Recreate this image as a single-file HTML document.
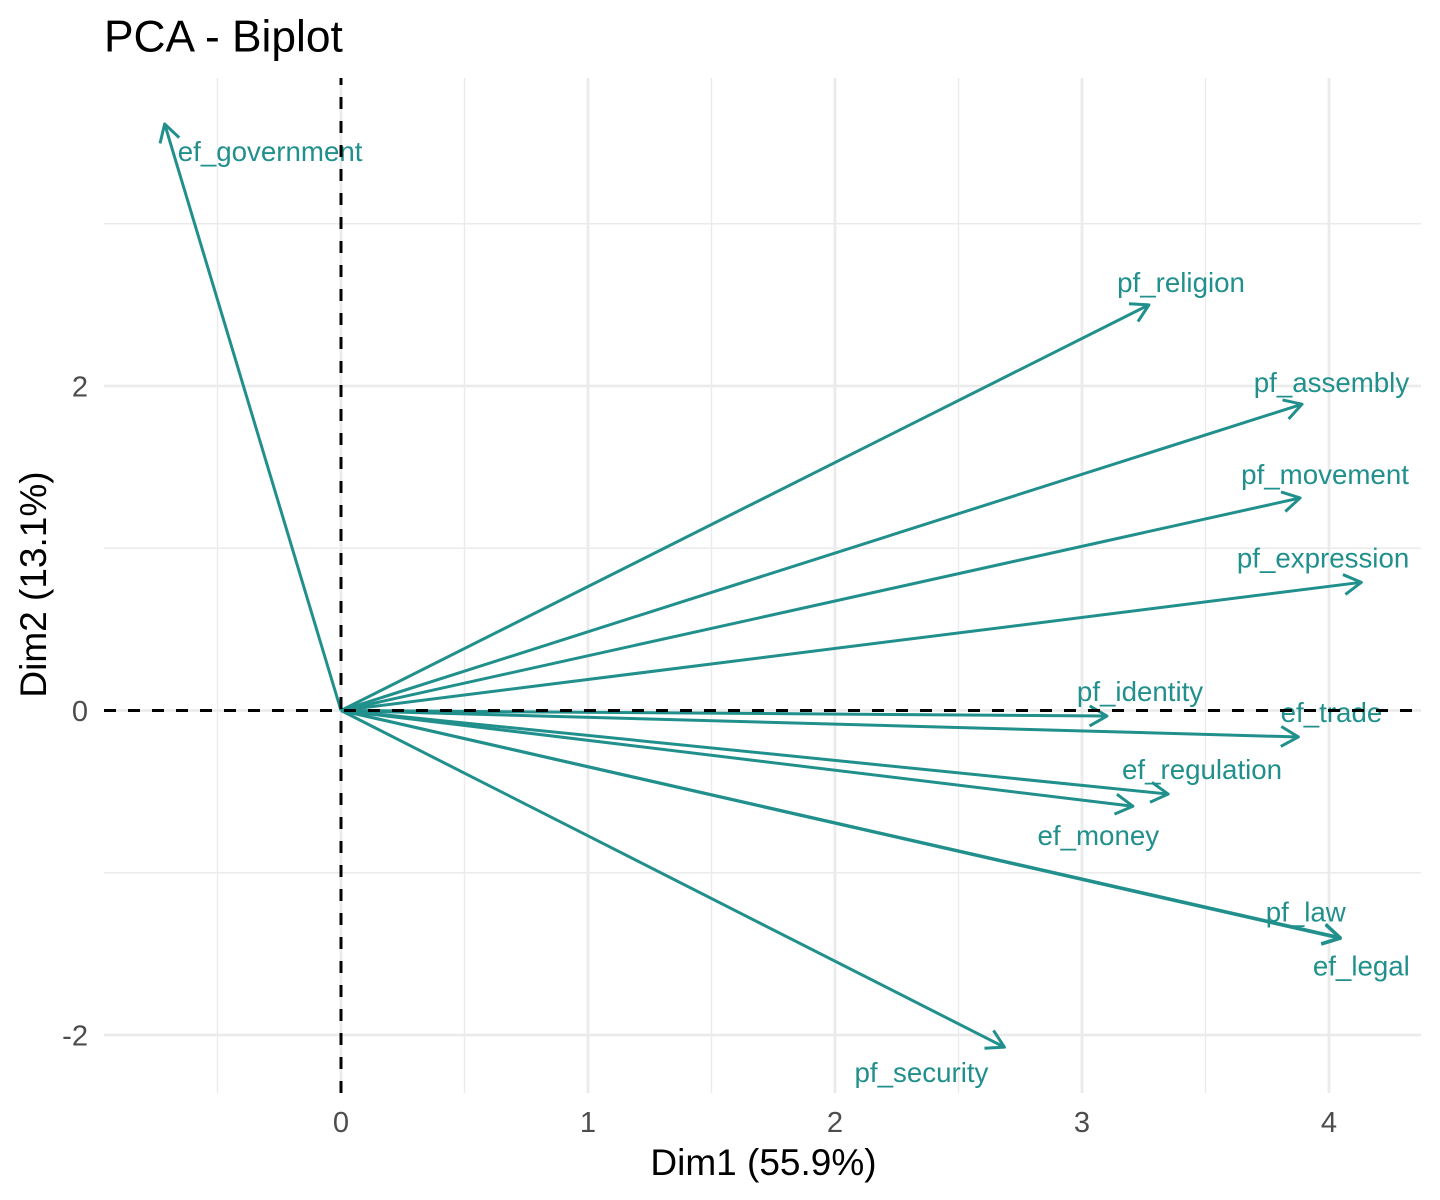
<!DOCTYPE html>
<html lang="en">
<head>
<meta charset="utf-8">
<title>PCA - Biplot</title>
<style>
html,body{margin:0;padding:0;background:#fff;}
#chart{display:block;width:1440px;height:1200px;font-family:"Liberation Sans",Arial,sans-serif;}
</style>
</head>
<body>
<svg id="chart" xmlns="http://www.w3.org/2000/svg" width="1440" height="1200" viewBox="0 0 1440 1200">
<rect x="0" y="0" width="1440" height="1200" fill="#ffffff"/>
<text x="104" y="51.5" font-size="44.3" fill="#000000">PCA - Biplot</text>
<text x="763.5" y="1175" font-size="37" text-anchor="middle" fill="#000000">Dim1 (55.9%)</text>
<text transform="translate(46,584.5) rotate(-90)" font-size="37" text-anchor="middle" fill="#000000">Dim2 (13.1%)</text>
<g id="grid"></g>
<g id="arrows"></g>
<g id="labels"></g>
<g id="refs"></g>
<g id="ticks"></g>
</svg>
<script>
// Chart data (biplot coordinates)
const variables = ['ef_government','pf_religion','pf_assembly','pf_movement','pf_expression','pf_identity','ef_trade','ef_regulation','ef_money','pf_law','ef_legal','pf_security'];
const dim1Values = [-0.714, 3.271, 3.891, 3.883, 4.131, 3.101, 3.876, 3.349, 3.206, 4.046, 4.046, 2.686];
const dim2Values = [3.615, 2.50, 1.888, 1.31, 0.79, -0.034, -0.163, -0.515, -0.59, -1.40, -1.405, -2.075];
// Repelled label displacement from each arrow tip, in data units
const labelShiftDim1 = [0.427, 0.130, 0.119, 0.101, -0.155, 0.134, 0.134, 0.137, -0.140, -0.140, 0.085, -0.336];
const labelShiftDim2 = [-0.173, 0.136, 0.129, 0.142, 0.148, 0.148, 0.148, 0.148, -0.185, 0.154, -0.173, -0.160];
const xMajorTicks = [0, 1, 2, 3, 4];
const xMinorTicks = [-0.5, 0.5, 1.5, 2.5, 3.5];
const yMajorTicks = [-2, 0, 2];
const yMinorTicks = [-1, 1, 3];

const NS = 'http://www.w3.org/2000/svg';
const panel = {left: 104, right: 1421, top: 78, bottom: 1093};
const scaleX = v => 341 + v * 247;
const scaleY = v => 710.5 - v * 162.25;
const TEAL = '#21908C';

function make(tag, attrs, parent) {
  const el = document.createElementNS(NS, tag);
  for (const k in attrs) el.setAttribute(k, attrs[k]);
  parent.appendChild(el);
  return el;
}

const grid = document.getElementById('grid');
xMinorTicks.forEach(t => {
  const x = scaleX(t);
  const el = make('line', {x1: x, x2: x, y1: panel.top, y2: panel.bottom, stroke: '#ebebeb', 'stroke-width': 1.4}, grid);
  
  
});
yMinorTicks.forEach(t => {
  const y = scaleY(t);
  const el = make('line', {x1: panel.left, x2: panel.right, y1: y, y2: y, stroke: '#ebebeb', 'stroke-width': 1.4}, grid);
  
  
});
xMajorTicks.forEach(t => {
  const x = scaleX(t);
  const el = make('line', {x1: x, x2: x, y1: panel.top, y2: panel.bottom, stroke: '#ebebeb', 'stroke-width': 2.8}, grid);
  
  
});
yMajorTicks.forEach(t => {
  const y = scaleY(t);
  const el = make('line', {x1: panel.left, x2: panel.right, y1: y, y2: y, stroke: '#ebebeb', 'stroke-width': 2.8}, grid);
  
  
});

const ticks = document.getElementById('ticks');
xMajorTicks.forEach(t => {
  const el = make('text', {x: scaleX(t), y: 1132, 'font-size': 29.1, 'text-anchor': 'middle', fill: '#4d4d4d'}, ticks);
  el.textContent = String(t);
  
  
});
yMajorTicks.forEach(t => {
  const el = make('text', {x: 88, y: scaleY(t) + 10.5, 'font-size': 29.1, 'text-anchor': 'end', fill: '#4d4d4d'}, ticks);
  el.textContent = String(t);
  
  
});

const arrows = document.getElementById('arrows');
const labels = document.getElementById('labels');
const HEAD = 20, ANGLE = Math.PI / 6;
variables.forEach((name, i) => {
  const x0 = scaleX(0), y0 = scaleY(0);
  const x1 = scaleX(dim1Values[i]), y1 = scaleY(dim2Values[i]);
  const a = Math.atan2(y1 - y0, x1 - x0);
  const g = make('g', {fill: 'none', stroke: TEAL, 'stroke-width': 3, 'stroke-linecap': 'butt', 'stroke-linejoin': 'round'}, arrows);
  
  
  const shaft = make('line', {x1: x0, y1: y0, x2: x1, y2: y1}, g);
  
  
  const bx1 = x1 - HEAD * Math.cos(a - ANGLE), by1 = y1 - HEAD * Math.sin(a - ANGLE);
  const bx2 = x1 - HEAD * Math.cos(a + ANGLE), by2 = y1 - HEAD * Math.sin(a + ANGLE);
  const head = make('polyline', {points: bx1 + ',' + by1 + ' ' + x1 + ',' + y1 + ' ' + bx2 + ',' + by2}, g);
  
  

  const lx = scaleX(dim1Values[i] + labelShiftDim1[i]);
  const ly = scaleY(dim2Values[i] + labelShiftDim2[i]) + 9;
  const t = make('text', {x: lx, y: ly, 'font-size': 27.7, 'text-anchor': 'middle', fill: TEAL}, labels);
  t.textContent = name;
  
  
});

const refs = document.getElementById('refs');
const hRef = make('line', {x1: panel.left, x2: panel.right, y1: scaleY(0), y2: scaleY(0), stroke: '#000', 'stroke-width': 3, 'stroke-dasharray': '12 12'}, refs);


const vRef = make('line', {x1: scaleX(0), x2: scaleX(0), y1: panel.bottom, y2: panel.top, stroke: '#000', 'stroke-width': 3, 'stroke-dasharray': '12 12'}, refs);


</script>
</body>
</html>
